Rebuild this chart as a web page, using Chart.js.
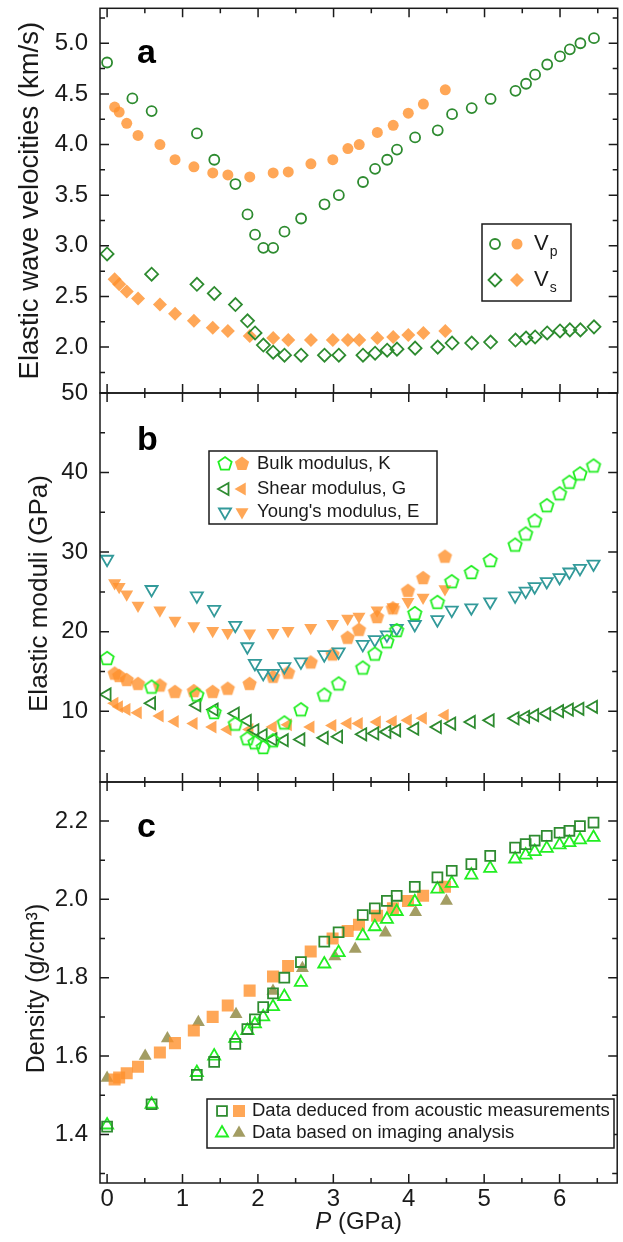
<!DOCTYPE html>
<html>
<head>
<meta charset="utf-8">
<script src="https://cdn.jsdelivr.net/npm/chart.js@4.4.1/dist/chart.umd.min.js"></script>
<style>
  html, body { margin: 0; padding: 0; background: #fff; overflow: hidden; }
  #wrap { position: relative; width: 626px; height: 1242px; }
  #wrap canvas { position: absolute; left: 0; top: 0; }
</style>
</head>
<body>
<div id="wrap">
  <canvas id="chartA" width="626" height="1242"></canvas>
  <canvas id="chartB" width="626" height="1242"></canvas>
  <canvas id="chartC" width="626" height="1242"></canvas>
</div>
<script>
// pressures (GPa)
const P_VP = [0, 0.335, 0.59, 1.19, 1.42, 1.70, 1.86, 1.96, 2.07, 2.20, 2.35, 2.57, 2.88, 3.07, 3.39, 3.55, 3.71, 3.84,
  4.08, 4.38, 4.57, 4.83, 5.08, 5.41, 5.55, 5.67, 5.83, 6.00, 6.13, 6.27, 6.45];
const P_GREEN = [0, 0.59, 1.19, 1.42, 1.70, 1.86, 1.96, 2.07, 2.20, 2.35, 2.57, 2.88, 3.07, 3.39, 3.55, 3.71, 3.84,
  4.08, 4.38, 4.57, 4.83, 5.08, 5.41, 5.55, 5.67, 5.83, 6.00, 6.13, 6.27, 6.45];
const P_ORANGE = [0.10, 0.16, 0.26, 0.41, 0.70, 0.90, 1.15, 1.40, 1.60, 1.89, 2.20, 2.40, 2.70, 2.99, 3.19, 3.34,
  3.58, 3.79, 3.99, 4.19, 4.48];
const P_OLIVE = [0, 0.505, 0.80, 1.21, 1.71, 2.20, 2.59, 3.02, 3.29, 3.69, 4.09, 4.50];

// panel a: velocities (km/s)
const VP_OPEN = [4.81, 4.455, 4.33, 4.11, 3.85, 3.61, 3.31, 3.11, 2.98, 2.98, 3.14, 3.27, 3.41, 3.50, 3.63, 3.76, 3.85, 3.95,
  4.07, 4.14, 4.30, 4.36, 4.45, 4.53, 4.60, 4.69, 4.79, 4.87, 4.94, 5.00, 5.05];
const VP_FILL = [4.37, 4.32, 4.21, 4.09, 4.00, 3.85, 3.78, 3.72, 3.70, 3.68, 3.72, 3.73, 3.81, 3.85, 3.96, 4.00,
  4.12, 4.19, 4.31, 4.40, 4.54];
const VS_OPEN = [2.92, 2.72, 2.62, 2.53, 2.42, 2.26, 2.14, 2.02, 1.95, 1.92, 1.92, 1.92, 1.92, 1.92, 1.94, 1.97, 1.98,
  1.99, 2.00, 2.04, 2.04, 2.05, 2.07, 2.09, 2.10, 2.14, 2.16, 2.17, 2.17, 2.20];
const VS_FILL = [2.67, 2.62, 2.55, 2.48, 2.42, 2.33, 2.26, 2.19, 2.16, 2.11, 2.09, 2.07, 2.07, 2.07, 2.07, 2.07,
  2.09, 2.10, 2.12, 2.14, 2.16];

// panel b: moduli (GPa)
const K_OPEN = [16.7, 13.1, 12.1, 9.9, 8.45, 6.6, 6.1, 5.5, 6.35, 8.6, 10.25, 12.1, 13.5, 15.5, 17.25, 18.8, 20.2,
  22.35, 23.75, 26.35, 27.5, 29.0, 30.95, 32.35, 34.0, 35.9, 37.4, 38.85, 39.9, 40.9];
const K_FILL = [14.8, 14.5, 14.0, 13.5, 13.3, 12.5, 12.6, 12.5, 12.9, 13.5, 14.4, 14.9, 16.2, 17.2, 19.3, 20.3,
  21.9, 23.0, 25.2, 26.8, 29.5];
const G_OPEN = [12.1, 11.0, 10.75, 10.2, 9.7, 8.8, 7.6, 7.0, 6.45, 6.35, 6.45, 6.65, 6.8, 7.1, 7.2, 7.4, 7.6,
  7.8, 8.0, 8.45, 8.65, 8.85, 9.1, 9.3, 9.5, 9.7, 10.0, 10.2, 10.3, 10.55];
const G_FILL = [11.0, 10.55, 10.2, 9.8, 9.4, 8.7, 8.45, 8.0, 7.7, 7.7, 8.0, 8.3, 8.0, 8.2, 8.45, 8.45,
  8.65, 8.7, 8.85, 9.1, 9.5];
const E_OPEN = [29.1, 25.3, 24.5, 22.8, 20.8, 18.1, 16.0, 14.75, 14.75, 15.6, 16.2, 17.1, 17.45, 18.4, 19.0, 19.6, 20.4,
  20.9, 21.5, 22.7, 23.0, 23.75, 24.5, 25.1, 25.65, 26.3, 26.8, 27.5, 27.95, 28.5];
const E_FILL = [26.1, 25.65, 24.7, 23.3, 22.7, 21.4, 20.7, 20.1, 19.85, 19.8, 19.85, 20.1, 20.5, 21.0, 21.65, 21.9,
  22.7, 23.1, 23.75, 24.3, 25.35];

// panel c: density (g/cm3)
const D_ACOUSTIC_OPEN = [1.420, 1.477, 1.552, 1.585, 1.631, 1.669, 1.694, 1.725, 1.760, 1.800, 1.840, 1.892, 1.916,
  1.960, 1.977, 1.996, 2.009, 2.032, 2.056, 2.073, 2.090, 2.111, 2.132, 2.141, 2.150, 2.162, 2.170, 2.175, 2.187, 2.196];
const D_ACOUSTIC_FILL = [1.540, 1.545, 1.556, 1.573, 1.609, 1.633, 1.665, 1.700, 1.729, 1.767, 1.803, 1.830, 1.867,
  1.900, 1.919, 1.935, 1.958, 1.977, 1.996, 2.009, 2.032];
const D_IMAGING_OPEN = [1.424, 1.477, 1.558, 1.600, 1.645, 1.665, 1.682, 1.700, 1.726, 1.752, 1.788, 1.835, 1.864,
  1.907, 1.930, 1.949, 1.969, 1.994, 2.026, 2.041, 2.062, 2.079, 2.103, 2.113, 2.122, 2.130, 2.139, 2.145, 2.152, 2.158];
const D_IMAGING_FILL = [1.544, 1.600, 1.645, 1.686, 1.707, 1.766, 1.824, 1.854, 1.873, 1.915, 1.967, 1.996];

// ticks
const X_TICKS = [0, 1, 2, 3, 4, 5, 6];
const X_MINOR = [0.5, 1.5, 2.5, 3.5, 4.5, 5.5, 6.5];
const A_TICKS = [2.0, 2.5, 3.0, 3.5, 4.0, 4.5, 5.0];
const A_MINOR = [1.75, 2.25, 2.75, 3.25, 3.75, 4.25, 4.75, 5.25];
const B_TICKS = [10, 20, 30, 40, 50];
const B_MINOR = [5, 15, 25, 35, 45];
const C_TICKS = [1.4, 1.6, 1.8, 2.0, 2.2];
const C_MINOR = [1.3, 1.5, 1.7, 1.9, 2.1];

const W = 626, H = 1242, LEFT = 100, RIGHT = 624;
const X_MIN = -0.094, X_MAX = 6.764;
const FONT = '"Liberation Sans", Arial, sans-serif';
const INK = '#1a1a1a';
const DKGREEN = '#2e8b30';
const LTGREEN = '#22ee22';
const TEAL = '#339a9a';
const ORANGE = 'rgba(255,145,45,0.8)';
const OLIVE = 'rgba(140,132,60,0.8)';

const M = {
  vpO: { style: 'circle', r: 5, stroke: DKGREEN },
  vpF: { style: 'circle', r: 5.5, fill: ORANGE },
  vsO: { style: 'rectRot', r: 6.5, stroke: DKGREEN },
  vsF: { style: 'rectRot', r: 7, fill: ORANGE },
  kO: { style: 'pentagon', r: 7, stroke: LTGREEN },
  kF: { style: 'pentagon', r: 7.5, fill: ORANGE },
  gO: { style: 'triangle', r: 7, rot: -90, stroke: DKGREEN },
  gF: { style: 'triangle', r: 7.5, rot: -90, fill: ORANGE },
  eO: { style: 'triangle', r: 7, rot: 180, stroke: TEAL },
  eF: { style: 'triangle', r: 7.5, rot: 180, fill: ORANGE },
  sqO: { style: 'rect', r: 7, stroke: DKGREEN },
  sqF: { style: 'rect', r: 8.5, fill: ORANGE },
  trO: { style: 'triangle', r: 7, stroke: LTGREEN },
  trF: { style: 'triangle', r: 7.5, fill: OLIVE }
};

// per-panel decoration, kept out of chart options so chart.js does not proxy it
const DECOR = {
  chartA: {
    yMajor: A_TICKS, yMinor: A_MINOR, letter: 'a', letterDy: 55,
    title: 'Elastic wave velocities (km/s)', titleSize: 27.5, titleX: 30, titleDy: 0,
    legend: {
      box: [482, 224, 571, 301], mx: [495, 517], tx: 534, size: 22,
      rows: [
        { y: 244, markers: [M.vpO, M.vpF], text: 'V', sub: 'p' },
        { y: 280, markers: [M.vsO, M.vsF], text: 'V', sub: 's' }
      ]
    }
  },
  chartB: {
    yMajor: B_TICKS, yMinor: B_MINOR, letter: 'b', letterDy: 57,
    title: 'Elastic moduli (GPa)', titleSize: 26, titleX: 40, titleDy: 6,
    legend: {
      box: [209, 451, 437, 524], mx: [225, 242], tx: 257, size: 18.5,
      rows: [
        { y: 464, markers: [M.kO, M.kF], text: 'Bulk modulus, K' },
        { y: 489, markers: [M.gO, M.gF], text: 'Shear modulus, G' },
        { y: 512, markers: [M.eO, M.eF], text: "Young's modulus, E" }
      ]
    }
  },
  chartC: {
    yMajor: C_TICKS, yMinor: C_MINOR, letter: 'c', letterDy: 55,
    title: 'Density (g/cm\u00B3)', titleSize: 25, titleX: 37, titleDy: 6, xTitle: true,
    legend: {
      box: [207, 1099, 614, 1148], mx: [222, 239], tx: 252, size: 18.5,
      rows: [
        { y: 1111, markers: [M.sqO, M.sqF], text: 'Data deduced from acoustic measurements' },
        { y: 1133, markers: [M.trO, M.trF], text: 'Data based on imaging analysis' }
      ]
    }
  }
};

function markerPath(ctx, m, x, y) {
  const r = m.r;
  let rad = (m.rot || 0) * Math.PI / 180;
  ctx.beginPath();
  if (m.style === 'circle') {
    ctx.arc(x, y, r, 0, Math.PI * 2);
  } else if (m.style === 'rectRot') {
    ctx.moveTo(x - r, y); ctx.lineTo(x, y - r); ctx.lineTo(x + r, y); ctx.lineTo(x, y + r);
  } else if (m.style === 'rect') {
    const s = r * Math.SQRT1_2;
    ctx.rect(x - s, y - s, 2 * s, 2 * s);
  } else if (m.style === 'triangle') {
    ctx.moveTo(x + Math.sin(rad) * r, y - Math.cos(rad) * r);
    for (let i = 0; i < 2; i++) {
      rad += Math.PI * 2 / 3;
      ctx.lineTo(x + Math.sin(rad) * r, y - Math.cos(rad) * r);
    }
  } else if (m.style === 'pentagon') {
    for (let i = 0; i < 5; i++) {
      const ang = -Math.PI / 2 + i * Math.PI * 2 / 5;
      if (i === 0) ctx.moveTo(x + r * Math.cos(ang), y + r * Math.sin(ang));
      else ctx.lineTo(x + r * Math.cos(ang), y + r * Math.sin(ang));
    }
  }
  ctx.closePath();
}

function drawMarker(ctx, m, x, y) {
  ctx.save();
  markerPath(ctx, m, x, y);
  if (m.fill) { ctx.fillStyle = m.fill; ctx.fill(); }
  if (m.stroke) { ctx.strokeStyle = m.stroke; ctx.lineWidth = 1.8; ctx.stroke(); }
  ctx.beginPath();
  ctx.restore();
}

// chart.js has no pentagon, so hand it a small canvas as the point style
function pentagonImg(m) {
  const c = document.createElement('canvas');
  const s = Math.ceil(2 * m.r + 4);
  c.width = s; c.height = s;
  drawMarker(c.getContext('2d'), m, s / 2, s / 2 + 0.8);
  return c;
}

const pts = (xs, ys) => xs.map((x, i) => ({ x: x, y: ys[i] }));

function ds(xs, ys, m) {
  return {
    data: pts(xs, ys),
    showLine: false,
    pointStyle: m.style === 'pentagon' ? pentagonImg(m) : m.style,
    pointRadius: m.r,
    pointRotation: m.rot || 0,
    borderColor: m.stroke || 'transparent',
    backgroundColor: m.fill || 'transparent',
    borderWidth: m.stroke ? 1.8 : 0
  };
}

const panelPlugin = {
  id: 'panel',
  afterDraw(chart) {
    const o = DECOR[chart.canvas.id];
    const { ctx, chartArea: a, scales: { x, y } } = chart;
    ctx.save();
    // frame
    ctx.strokeStyle = INK;
    ctx.lineWidth = 1.5;
    ctx.strokeRect(a.left, a.top, a.right - a.left, a.bottom - a.top);
    // inward ticks on all four sides
    ctx.beginPath();
    const xt = (vals, len) => vals.forEach(v => {
      const px = x.getPixelForValue(v);
      ctx.moveTo(px, a.top); ctx.lineTo(px, a.top + len);
      ctx.moveTo(px, a.bottom); ctx.lineTo(px, a.bottom - len);
    });
    const yt = (vals, len) => vals.forEach(v => {
      const py = y.getPixelForValue(v);
      if (py < a.top - 0.5 || py > a.bottom + 0.5) return;
      ctx.moveTo(a.left, py); ctx.lineTo(a.left + len, py);
      ctx.moveTo(a.right, py); ctx.lineTo(a.right - len, py);
    });
    xt(X_TICKS, 9); xt(X_MINOR, 5);
    yt(o.yMajor, 9); yt(o.yMinor, 5);
    ctx.stroke();
    ctx.beginPath();

    // panel letter
    ctx.fillStyle = '#000';
    ctx.font = 'bold 34px ' + FONT;
    ctx.textBaseline = 'alphabetic';
    ctx.textAlign = 'left';
    ctx.fillText(o.letter, 137, a.top + o.letterDy);

    // y title
    ctx.save();
    ctx.translate(o.titleX, (a.top + a.bottom) / 2 + o.titleDy);
    ctx.rotate(-Math.PI / 2);
    ctx.textAlign = 'center';
    ctx.textBaseline = 'middle';
    ctx.font = o.titleSize + 'px ' + FONT;
    ctx.fillStyle = INK;
    ctx.fillText(o.title, 0, 0);
    ctx.restore();

    // legend
    const L = o.legend;
    ctx.fillStyle = '#fff';
    ctx.fillRect(L.box[0], L.box[1], L.box[2] - L.box[0], L.box[3] - L.box[1]);
    ctx.strokeStyle = INK;
    ctx.lineWidth = 1.5;
    ctx.strokeRect(L.box[0], L.box[1], L.box[2] - L.box[0], L.box[3] - L.box[1]);
    L.rows.forEach(row => {
      row.markers.forEach((m, i) => drawMarker(ctx, m, L.mx[i], row.y));
      ctx.fillStyle = INK;
      ctx.textAlign = 'left';
      ctx.textBaseline = 'middle';
      ctx.font = L.size + 'px ' + FONT;
      ctx.fillText(row.text, L.tx, row.y);
      if (row.sub) {
        const w = ctx.measureText(row.text).width;
        ctx.font = Math.round(L.size * 0.62) + 'px ' + FONT;
        ctx.fillText(row.sub, L.tx + w + 1, row.y + 8);
      }
    });

    // x title on the bottom panel
    if (o.xTitle) {
      ctx.fillStyle = INK;
      ctx.textBaseline = 'middle';
      ctx.textAlign = 'left';
      ctx.font = 'italic 24px ' + FONT;
      const w1 = ctx.measureText('P').width;
      ctx.font = '24px ' + FONT;
      const w2 = ctx.measureText(' (GPa)').width;
      const x0 = (a.left + a.right) / 2 - (w1 + w2) / 2;
      ctx.font = 'italic 24px ' + FONT;
      ctx.fillText('P', x0, 1222);
      ctx.font = '24px ' + FONT;
      ctx.fillText(' (GPa)', x0 + w1, 1222);
    }
    ctx.restore();
  }
};

function makePanel(id, p) {
  return new Chart(document.getElementById(id), {
    type: 'scatter',
    data: { datasets: p.datasets },
    plugins: [panelPlugin],
    options: {
      responsive: false,
      animation: false,
      events: [],
      layout: { padding: { left: 0, right: W - RIGHT, top: p.top, bottom: p.showX ? 0 : H - p.bottom } },
      plugins: { legend: { display: false }, tooltip: { enabled: false } },
      scales: {
        x: {
          type: 'linear', min: X_MIN, max: X_MAX, display: p.showX,
          grid: { display: false, drawTicks: false }, border: { display: false },
          afterBuildTicks: s => { s.ticks = X_TICKS.map(v => ({ value: v })); },
          afterFit: s => { s.height = p.showX ? H - p.bottom : 0; s.paddingLeft = 0; s.paddingRight = 0; },
          ticks: { padding: 2, autoSkip: false, maxRotation: 0, color: INK, font: { family: FONT, size: 24 } }
        },
        y: {
          type: 'linear', min: p.yMin, max: p.yMax,
          grid: { display: false, drawTicks: false }, border: { display: false },
          afterBuildTicks: s => { s.ticks = p.yTicks.map(v => ({ value: v })); },
          afterFit: s => { s.width = LEFT; s.paddingTop = 0; s.paddingBottom = 0; },
          ticks: { padding: 12, autoSkip: false, color: INK, font: { family: FONT, size: 24 }, callback: p.fmt }
        }
      }
    }
  });
}

makePanel('chartA', {
  top: 8, bottom: 393, showX: false,
  yMin: 1.547, yMax: 5.345, yTicks: A_TICKS, fmt: v => v.toFixed(1),
  datasets: [
    ds(P_VP, VP_OPEN, M.vpO),
    ds(P_GREEN, VS_OPEN, M.vsO),
    ds(P_ORANGE, VP_FILL, M.vpF),
    ds(P_ORANGE, VS_FILL, M.vsF)
  ]
});

makePanel('chartB', {
  top: 393, bottom: 782, showX: false,
  yMin: 1.1, yMax: 50, yTicks: B_TICKS, fmt: v => String(v),
  datasets: [
    ds(P_GREEN, K_OPEN, M.kO),
    ds(P_GREEN, G_OPEN, M.gO),
    ds(P_GREEN, E_OPEN, M.eO),
    ds(P_ORANGE, K_FILL, M.kF),
    ds(P_ORANGE, G_FILL, M.gF),
    ds(P_ORANGE, E_FILL, M.eF)
  ]
});

makePanel('chartC', {
  top: 782, bottom: 1183, showX: true,
  yMin: 1.276, yMax: 2.2995, yTicks: C_TICKS, fmt: v => v.toFixed(1),
  datasets: [
    ds(P_GREEN, D_ACOUSTIC_OPEN, M.sqO),
    ds(P_GREEN, D_IMAGING_OPEN, M.trO),
    ds(P_ORANGE, D_ACOUSTIC_FILL, M.sqF),
    ds(P_OLIVE, D_IMAGING_FILL, M.trF)
  ]
});
</script>
</body>
</html>
